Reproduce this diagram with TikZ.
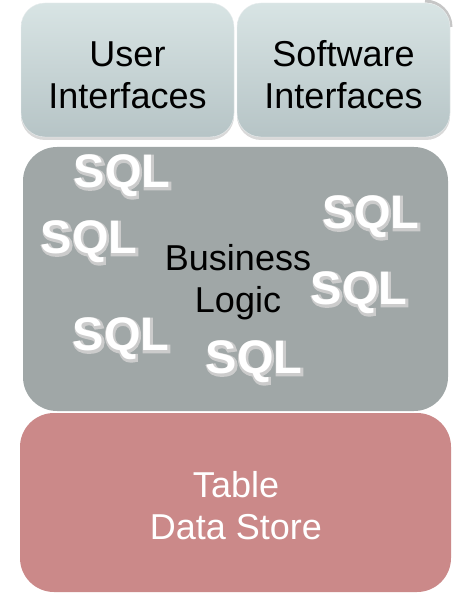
\documentclass[tikz,border=0pt]{standalone}
\usepackage{fontspec}
\setmainfont{Liberation Sans}
\newfontfamily\slidefont{Liberation Sans}
\usetikzlibrary{shadows}
\definecolor{ifacetop}{HTML}{D8E4E4}
\definecolor{ifacebot}{HTML}{B6C4C6}
\definecolor{logicgray}{HTML}{A0A7A7}
\definecolor{storered}{HTML}{CB8989}
% letters drawn fat, as a rim behind the white ones
\newcommand\rimtext[1]{\special{pdf:literal direct 2 Tr 3.4 w}#1\special{pdf:literal direct 0 Tr}}
\begin{document}
\begin{tikzpicture} [
            x=1pt, y=-1pt,
            iface/.style={rounded corners=24pt,top color=ifacetop,bottom color=ifacebot,draw=white!70!ifacebot,
                minimum width=213pt,minimum height=134pt,
                drop shadow={opacity=0.3,shadow xshift=0pt,shadow yshift=-3pt}},
            caption/.style={align=center,font=\slidefont\fontsize{36}{42}\selectfont},
            layer/.style={rounded corners=34pt,align=center,inner sep=0pt},
            sqlfont/.style={font=\slidefont\bfseries\fontsize{47}{50}\selectfont,inner sep=0pt},
            sqlrim/.style={sqlfont,text=white!80!black},
            sqltext/.style={sqlfont,text=white},
        ]
        \useasboundingbox (0,0) rectangle (452,593);
        \draw[gray!45,line width=3pt] (425,1) arc[start angle=90,end angle=0,radius=26pt];
        % interfaces
        \node[iface] (ui) at (127.5,70) {};
        \node[iface] (si) at (343.5,70) {};
        \node[caption] (uitext) at (127.5,75) {User\\Interfaces};
        \node[caption] (sitext) at (343.5,75) {Software\\Interfaces};
        % business logic layer
        \node[layer,fill=logicgray,minimum width=425pt,minimum height=264pt] (logic) at (235.5,279) {};
        \node[caption] (bl) at (238,282) {Business\\Logic};
        \foreach \pos/\name in {
                {(122,176)/sqlA}, {(89,242)/sqlB}, {(371,217)/sqlC},
                {(359,293)/sqlD}, {(121,339)/sqlE}, {(254,362)/sqlF}} {
            \node[sqlrim,xshift=0.7pt,yshift=-0.9pt] (\name-rim) at \pos {\rimtext{SQL}};
            \node[sqltext] (\name) at \pos {SQL};
        }
        % data store
        \node[layer,fill=storered,minimum width=431pt,minimum height=179pt] (store) at (235.5,502.5) {};
        \node[caption,text=white] (storetext) at (236,506) {Table\\Data Store};
    \end{tikzpicture}
\end{document}
